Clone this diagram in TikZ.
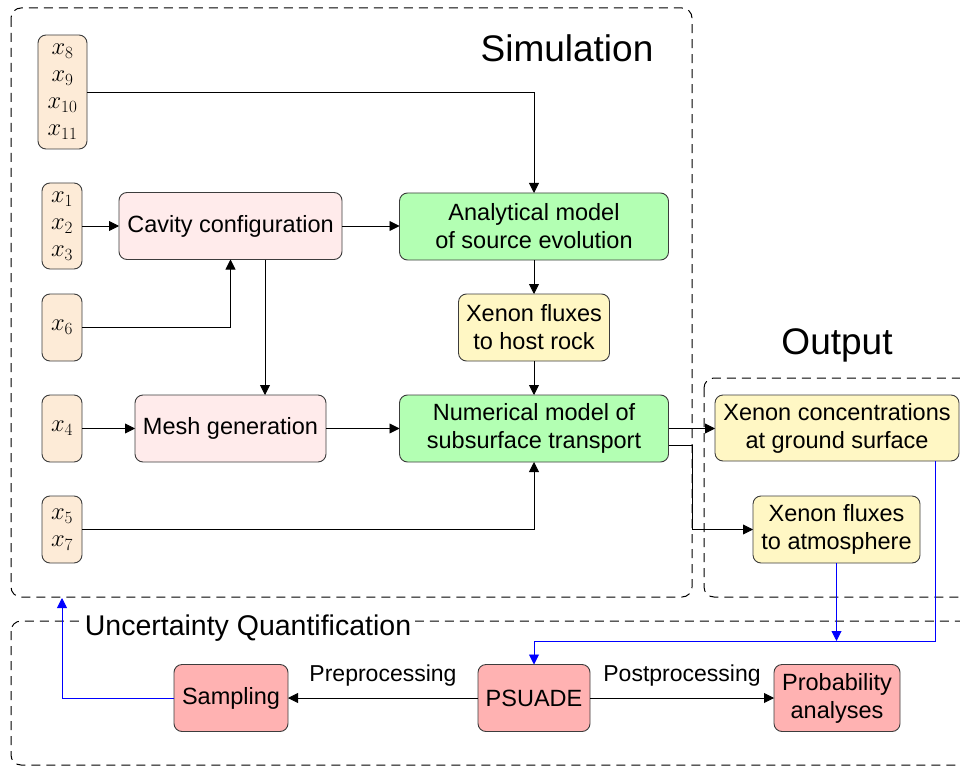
\documentclass[tikz,border=0pt]{standalone}
\usepackage{fix-cm}
\usepackage{fontspec}
\setmainfont{Liberation Sans}
\usetikzlibrary{arrows.meta,calc}
\definecolor{inpfill}{RGB}{253,235,215}
\definecolor{pinkfill}{RGB}{255,235,235}
\definecolor{greenfill}{RGB}{179,255,179}
\definecolor{yelfill}{RGB}{255,247,196}
\definecolor{redfill}{RGB}{255,178,178}
\definecolor{edge}{RGB}{60,60,60}
\tikzset{
  x=1pt, y=-1pt,
  base/.style={draw=edge, line width=0.9pt, rounded corners=8pt, outer sep=0pt, inner sep=2pt, align=center,
    font=\fontsize{23.5}{28}\selectfont},
  inp/.style={base, fill=inpfill, minimum width=40pt, minimum height=67pt, font=\fontsize{24.5}{27}\selectfont},
  pinkbox/.style={base, fill=pinkfill, minimum height=67pt},
  greenbox/.style={base, fill=greenfill, minimum height=67pt},
  yelbox/.style={base, fill=yelfill, minimum height=67pt},
  redbox/.style={base, fill=redfill, minimum height=67pt},
  arr/.style={line width=0.9pt, -{Triangle[length=10pt,width=10pt]}},
  barr/.style={arr, blue},
  frame/.style={draw=black, line width=1pt, dash pattern=on 9pt off 6pt, rounded corners=10pt},
  lbl/.style={font=\fontsize{23}{26}\selectfont}
}
\begin{document}
\begin{tikzpicture}
\useasboundingbox (0,0) rectangle (960,767);
\clip (0,0) rectangle (960,767);
% frames
\draw[frame] (11,8) rectangle (692,597);
\draw[frame] (704,378) rectangle (985,597);
\draw[frame] (11,621) rectangle (985,765);
\node[font=\fontsize{37}{40}\selectfont] (tsim) at (567,48) {Simulation};
\node[font=\fontsize{37}{40}\selectfont] (tout) at (837,345) {Output};
\node[font=\fontsize{28.5}{32}\selectfont, fill=white, inner sep=4pt] (tuq) at (248,628) {Uncertainty Quantification};
% inputs
\node[inp, minimum width=49pt, minimum height=114pt] (in1) at (62.5,92) {$x_8$\\$x_9$\\$x_{10}$\\$x_{11}$};
\node[inp, minimum height=86pt] (in2) at (62,226) {$x_1$\\$x_2$\\$x_3$};
\node[inp] (in3) at (62,327.5) {$x_6$};
\node[inp] (in4) at (62,428.5) {$x_4$};
\node[inp] (in5) at (62,529.5) {$x_5$\\$x_7$};
% process boxes
\node[pinkbox, minimum width=223pt] (cav) at (230.5,226) {Cavity configuration};
\node[pinkbox, minimum width=191pt] (mesh) at (230.5,428.5) {Mesh generation};
\node[greenbox, minimum width=269pt] (ana) at (534,226.5) {Analytical model\\of source evolution};
\node[yelbox, minimum width=151pt] (host) at (534,327.5) {Xenon fluxes\\to host rock};
\node[greenbox, minimum width=269pt] (num) at (534,428.5) {Numerical model of\\subsurface transport};
\node[yelbox, minimum width=244pt, minimum height=66pt] (conc) at (837,428) {Xenon concentrations\\at ground surface};
\node[yelbox, minimum width=167pt] (atm) at (836.5,529.5) {Xenon fluxes\\to atmosphere};
\node[redbox, minimum width=114pt] (samp) at (231,698) {Sampling};
\node[redbox, minimum width=112pt] (psu) at (534,698) {PSUADE};
\node[redbox, minimum width=126pt] (prob) at (837,698) {Probability\\analyses};
\coordinate (simbot) at (62,598);
\coordinate (bj) at (534,641);
% connectors
\draw[arr] (in1.east) -| (ana.north);
\draw[arr] (in2.east) -- (cav.west);
\draw[arr] (cav.east) -- (cav.east -| ana.west);
\draw[arr] (in3.east) -| (cav.south);
\draw[arr] ([xshift=34.5pt]cav.south) -- ([xshift=34.5pt]mesh.north);
\draw[arr] (in4.east) -- (mesh.west);
\draw[arr] (mesh.east) -- (num.west);
\draw[arr] (in5.east) -| (num.south);
\draw[arr] (ana.south) -- (host.north);
\draw[arr] (host.south) -- (num.north);
\draw[arr] (num.east) -- (num.east -| conc.west);
\draw[arr] ([yshift=-17pt]num.east) -- ++(24,0) |- (atm.west);
\draw[barr] ([xshift=98pt]conc.south) |- (bj) -- (psu.north);
\draw[barr] (atm.south) -- (atm.south |- bj);
\draw[barr] (samp.west) -| (simbot);
\draw[arr] (psu.west) -- node[lbl, midway, above=8pt] (pre) {Preprocessing} (samp.east);
\draw[arr] (psu.east) -- node[lbl, midway, above=8pt] (post) {Postprocessing} (prob.west);
\end{tikzpicture}
\end{document}
